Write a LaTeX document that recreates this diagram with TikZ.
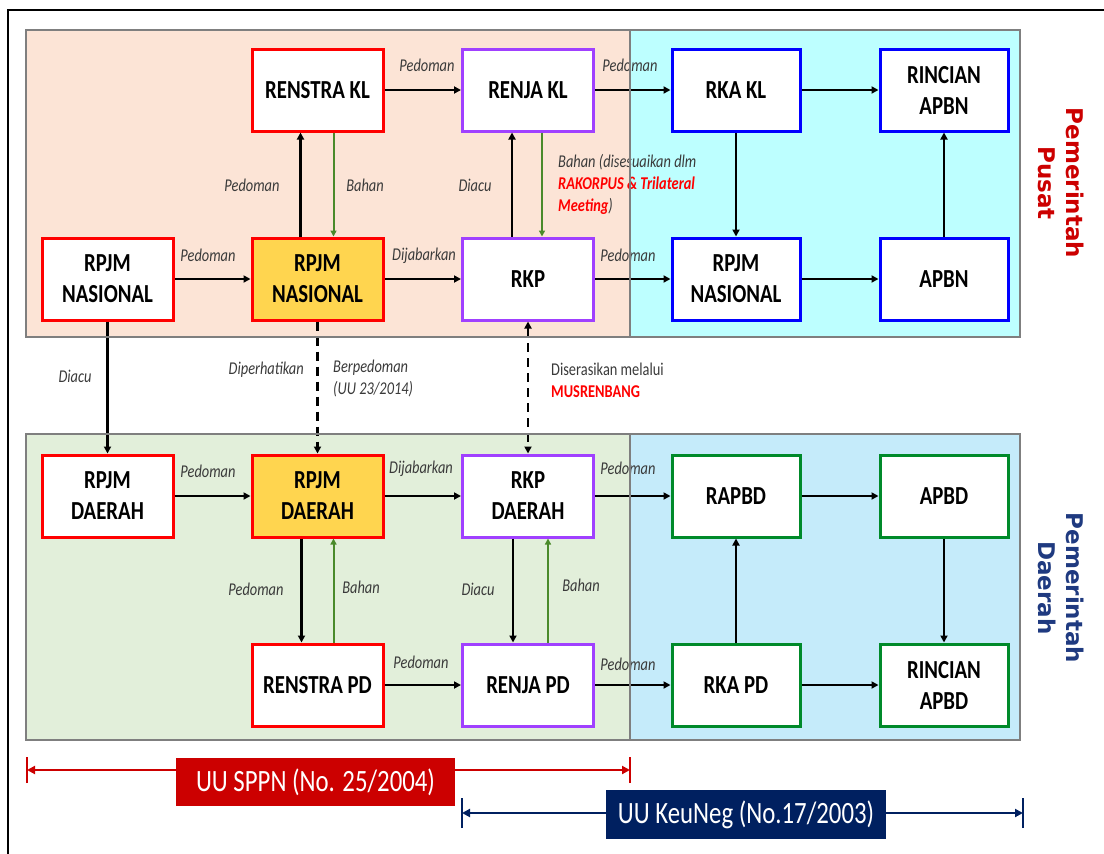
\documentclass[tikz,border=0pt]{standalone}
\usepackage{fontspec}
\setmainfont{Carlito}[FakeStretch=0.8]
\newfontfamily\sidefont{DejaVu Sans}
\usetikzlibrary{arrows.meta}
\definecolor{peach}{HTML}{FCE4D6}
\definecolor{cyanbg}{HTML}{BDFFFF}
\definecolor{greenbg}{HTML}{E2EFDA}
\definecolor{bluebg}{HTML}{C5EBFA}
\definecolor{boxred}{HTML}{FF0000}
\definecolor{boxpurple}{HTML}{A040FF}
\definecolor{boxblue}{HTML}{0000FF}
\definecolor{boxgreen}{HTML}{008A2A}
\definecolor{boxyellow}{HTML}{FFD54F}
\definecolor{bahan}{HTML}{4A8A2A}
\definecolor{lbl}{HTML}{3A3A3A}
\definecolor{pusat}{HTML}{CC0000}
\definecolor{daerah}{HTML}{1F3A80}
\definecolor{sppn}{HTML}{CC0000}
\definecolor{keu}{HTML}{002060}
\definecolor{regionline}{HTML}{7F7F7F}
\begin{document}
\begin{tikzpicture}[x=1pt,y=-1pt,
  box/.style={draw, line width=3pt, fill=white, minimum width=131pt, minimum height=82pt,
    inner sep=0pt, align=center, font=\fontsize{26}{31}\selectfont\bfseries},
  nbox/.style={box, minimum width=128pt},
  rbox/.style={box, draw=boxred},
  ybox/.style={box, draw=boxred, fill=boxyellow},
  pbox/.style={box, draw=boxpurple},
  bbox/.style={nbox, draw=boxblue},
  gbox/.style={nbox, draw=boxgreen},
  arr/.style={-{Triangle[length=7pt,width=7pt]}, line width=2.6pt},
  darr/.style={{Triangle[length=7pt,width=7pt]}-{Triangle[length=7pt,width=7pt]}, line width=2.6pt, dash pattern=on 9pt off 6pt},
  dsarr/.style={-{Triangle[length=7pt,width=7pt]}, line width=2.6pt, dash pattern=on 9pt off 6pt},
  garr/.style={-{Triangle[length=6pt,width=6pt]}, line width=2pt, draw=bahan},
  lab/.style={font=\fontsize{18}{22}\selectfont\itshape, text=lbl, inner sep=0pt},
  lawbox/.style={inner sep=0pt, text=white, font=\fontsize{31}{36}\selectfont},
  side/.style={inner sep=0pt, rotate=-90, align=center, font=\sidefont\fontsize{23}{28}\selectfont\bfseries},
  region/.style={draw=regionline, line width=1.8pt}
]
\useasboundingbox (0,0) rectangle (1104,854);
% outer frame
\draw[line width=2.2pt] (8,854) -- (8,10) -- (1104,10);
% region fills
\fill[peach] (26,30) rectangle (630,337);
\fill[cyanbg] (630,30) rectangle (1020,337);
\fill[greenbg] (26,434) rectangle (630,740);
\fill[bluebg] (630,434) rectangle (1020,740);

% top boxes
\node[rbox] (renstrakl) at (317.5,90) {RENSTRA KL};
\node[pbox] (renjakl) at (528,90) {RENJA KL};
\node[bbox] (rkakl) at (736,90) {RKA KL};
\node[bbox] (rincianapbn) at (944,90) {RINCIAN\\APBN};
\node[rbox] (rpjmn1) at (107.5,279) {RPJM\\NASIONAL};
\node[ybox] (rpjmn2) at (317.5,279) {RPJM\\NASIONAL};
\node[pbox] (rkp) at (528,279) {RKP};
\node[bbox] (rpjmn3) at (736,279) {RPJM\\NASIONAL};
\node[bbox] (apbn) at (944,279) {APBN};
% bottom boxes
\node[rbox] (rpjmd1) at (107.5,496) {RPJM\\DAERAH};
\node[ybox] (rpjmd2) at (317.5,496) {RPJM\\DAERAH};
\node[pbox] (rkpd) at (528,496) {RKP\\DAERAH};
\node[gbox] (rapbd) at (736,496) {RAPBD};
\node[gbox] (apbd) at (944,496) {APBD};
\node[rbox] (renstrapd) at (317.5,685) {RENSTRA PD};
\node[pbox] (renjapd) at (528,685) {RENJA PD};
\node[gbox] (rkapd) at (736,685) {RKA PD};
\node[gbox] (rincianapbd) at (944,685) {RINCIAN\\APBD};

% top arrows
\draw[arr] (renstrakl) -- (renjakl);
\draw[arr] (renjakl) -- (rkakl);
\draw[arr] (rkakl) -- (rincianapbn);
\draw[arr] (rkakl) -- (rpjmn3);
\draw[arr] (apbn) -- (rincianapbn);
\draw[arr] (rpjmn3) -- (apbn);
\draw[arr] (rkp) -- (rpjmn3);
\draw[arr] (rpjmn1) -- (rpjmn2);
\draw[arr] (rpjmn2) -- (rkp);
\draw[arr] ([xshift=-17pt]rpjmn2.north) -- ([xshift=-17pt]renstrakl.south);
\draw[garr] ([xshift=16pt]renstrakl.south) -- ([xshift=16pt]rpjmn2.north);
\draw[arr] ([xshift=-16pt]rkp.north) -- ([xshift=-16pt]renjakl.south);
\draw[garr] ([xshift=14pt]renjakl.south) -- ([xshift=14pt]rkp.north);
% between
\draw[arr] (rpjmn1) -- (rpjmd1);
\draw[dsarr] (rpjmn2) -- (rpjmd2);
\draw[darr] (rkp) -- (rkpd);
% bottom arrows
\draw[arr] (rpjmd1) -- (rpjmd2);
\draw[arr] (rpjmd2) -- (rkpd);
\draw[arr] (rkpd) -- (rapbd);
\draw[arr] (rapbd) -- (apbd);
\draw[arr] ([xshift=-16pt]rpjmd2.south) -- ([xshift=-16pt]renstrapd.north);
\draw[garr] ([xshift=16pt]renstrapd.north) -- ([xshift=16pt]rpjmd2.south);
\draw[arr] ([xshift=-15pt]rkpd.south) -- ([xshift=-15pt]renjapd.north);
\draw[garr] ([xshift=20pt]renjapd.north) -- ([xshift=20pt]rkpd.south);
\draw[arr] (renstrapd) -- (renjapd);
\draw[arr] (renjapd) -- (rkapd);
\draw[arr] (rkapd) -- (rapbd);
\draw[arr] (apbd) -- (rincianapbd);
\draw[arr] (rkapd) -- (rincianapbd);

% labels top
\node[lab] (l1) at (427,65) {Pedoman};
\node[lab] (l2) at (630,65) {Pedoman};
\node[lab] (l3) at (252,185) {Pedoman};
\node[lab] (l4) at (365,185) {Bahan};
\node[lab] (l5) at (475,185) {Diacu};
\node[lab, anchor=north west, align=left] (l6) at (558,154)
  {Bahan (disesuaikan dlm\\\textcolor{red}{\bfseries RAKORPUS \& Trilateral}\\\textcolor{red}{\bfseries Meeting})};
\node[lab] (l7) at (208,255) {Pedoman};
\node[lab] (l8) at (424,256) {Dijabarkan};
\node[lab] (l9) at (628,255) {Pedoman};
% labels between
\node[lab] (l10) at (75,376) {Diacu};
\node[lab, anchor=east] (l11) at (304,370) {Diperhatikan};
\node[lab, anchor=north west, align=left] (l12) at (333,360) {Berpedoman\\(UU 23/2014)};
\node[lab, font=\fontsize{18}{22}\selectfont, anchor=north west, align=left] (l13) at (551,363)
  {Diserasikan melalui\\\textcolor{red}{\bfseries MUSRENBANG}};
% labels bottom
\node[lab] (l14) at (208,471) {Pedoman};
\node[lab] (l15) at (421,469) {Dijabarkan};
\node[lab] (l16) at (628,468) {Pedoman};
\node[lab] (l17) at (256,589) {Pedoman};
\node[lab] (l18) at (361,587) {Bahan};
\node[lab] (l19) at (478,589) {Diacu};
\node[lab] (l20) at (581,585) {Bahan};
\node[lab] (l21) at (421,662) {Pedoman};
\node[lab] (l22) at (628,664) {Pedoman};

% region outlines
\draw[region] (26,30) rectangle (630,337);
\draw[region] (630,30) rectangle (1020,337);
\draw[region] (26,434) rectangle (630,740);
\draw[region] (630,434) rectangle (1020,740);

% side labels
\node[side, text=pusat] (pusat) at (1061,183) {Pemerintah\\Pusat};
\node[side, text=daerah] (daerah) at (1061,588) {Pemerintah\\Daerah};

% law bars
\coordinate (sa) at (27,770);
\coordinate (sb) at (630,770);
\coordinate (ka) at (462,813);
\coordinate (kb) at (1023,813);
\draw[sppn, line width=2.4pt, {Triangle[length=8pt,width=8pt]}-{Triangle[length=8pt,width=8pt]}] (sa) -- (sb);
\draw[sppn, line width=2.4pt] ([yshift=-13pt]sa) -- ([yshift=13pt]sa);
\draw[sppn, line width=2.4pt] ([yshift=-13pt]sb) -- ([yshift=13pt]sb);
\draw[keu, line width=2.4pt, {Triangle[length=8pt,width=8pt]}-{Triangle[length=8pt,width=8pt]}] (ka) -- (kb);
\draw[keu, line width=2.4pt] ([yshift=-15pt]ka) -- ([yshift=15pt]ka);
\draw[keu, line width=2.4pt] ([yshift=-15pt]kb) -- ([yshift=15pt]kb);
\node[lawbox, fill=sppn, minimum width=279pt, minimum height=48pt] (uusppn) at (315.5,782) {UU SPPN (No. 25/2004)};
\node[lawbox, fill=keu, minimum width=280pt, minimum height=49pt] (uukeu) at (746,814.5) {UU KeuNeg (No.17/2003)};
\end{tikzpicture}
\end{document}
